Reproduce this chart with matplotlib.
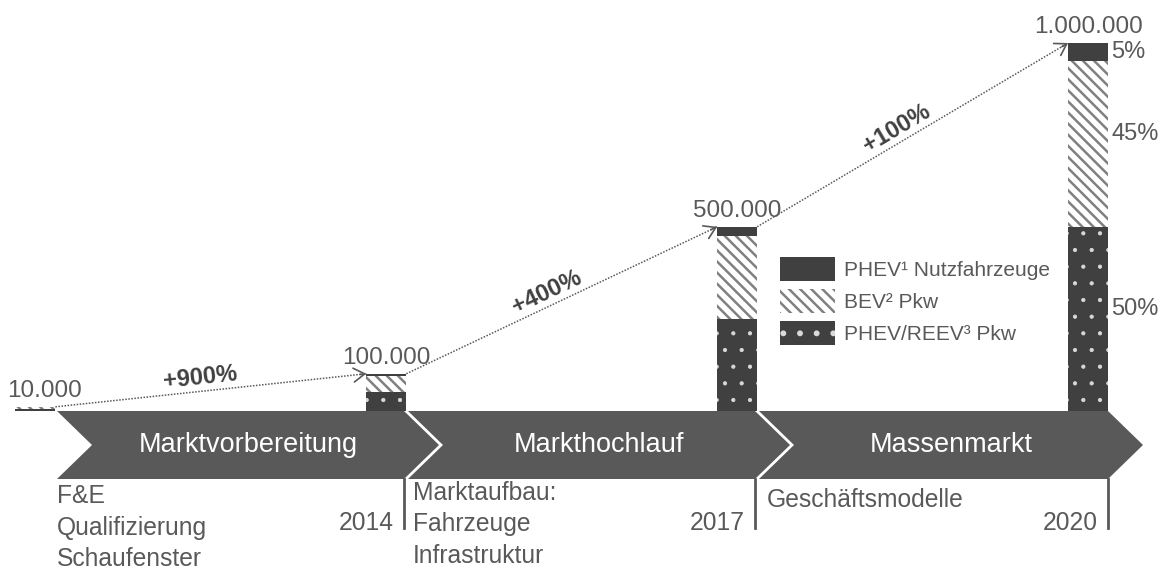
import math
import matplotlib
matplotlib.use('Agg')
import matplotlib.pyplot as plt
from matplotlib.patches import Polygon

plt.rcParams['font.family'] = ['Liberation Sans', 'DejaVu Sans']
plt.rcParams['hatch.linewidth'] = 1.8

# daten
bestand = [10000, 100000, 500000, 1000000]
bestand_labels = ['10.000', '100.000', '500.000', '1.000.000']
anteile = [0.50, 0.45, 0.05]   # von unten nach oben
serien = ['PHEV/REEV³ Pkw', 'BEV² Pkw', 'PHEV¹ Nutzfahrzeuge']
jahre = ['2014', '2017', '2020']
phasen = ['Marktvorbereitung', 'Markthochlauf', 'Massenmarkt']
phasen_text = [['F&E', 'Qualifizierung', 'Schaufenster'],
               ['Marktaufbau:', 'Fahrzeuge', 'Infrastruktur'],
               ['Geschäftsmodelle']]

GRAU = '#595959'
DUNKEL = '#404040'

W, H = 1165, 569
fig = plt.figure(figsize=(W / 100, H / 100), dpi=100)

# hintergrund in pixel-koordinaten (pfeilband, texte unten)
bg = fig.add_axes([0, 0, 1, 1])
bg.set_xlim(0, W)
bg.set_ylim(H, 0)
bg.axis('off')

# balken
ax = fig.add_axes([0, (H - 410.5) / H, 1, (410.5 - 43) / H])
ax.set_xlim(-35.4 / 350.9, (W - 35.4) / 350.9)
ax.set_ylim(0, 1e6)
ax.axis('off')
ax.patch.set_alpha(0)

x = list(range(len(bestand)))
bw = 40 / 350.9
stile = [dict(facecolor=DUNKEL, edgecolor='#d9d9d9', hatch='.'),
         dict(facecolor='white', edgecolor='#808080', hatch='\\\\\\'),
         dict(facecolor=DUNKEL, edgecolor=DUNKEL)]
hatch_lw = [0.6, 1.8, 1.8]

unten = [0] * len(bestand)
for anteil, name, st, hl in zip(anteile, serien, stile, hatch_lw):
    h = [b * anteil for b in bestand]
    with plt.rc_context({'hatch.linewidth': hl}):
        bars = ax.bar(x, h, bw, bottom=unten, label=name, linewidth=0, **st)
    for p in bars:
        if hasattr(p, 'set_hatch_linewidth'):
            p.set_hatch_linewidth(hl)
    unten = [u + v for u, v in zip(unten, h)]

for i, (b, lab) in enumerate(zip(bestand, bestand_labels)):
    dx = 9 if i == 0 else 0   # erstes label nicht am rand abschneiden
    ax.annotate(lab, (i, b), xytext=(dx, 10), textcoords='offset pixels',
                ha='center', va='baseline', fontsize=17.5, color=GRAU)

# wachstumspfeile
for i in range(len(bestand) - 1):
    x0, y0 = i + bw / 2, bestand[i]
    x1, y1 = i + 1 - bw / 2, bestand[i + 1]
    ax.plot([x0, x1], [y0, y1], ls=(0, (1, 1)), lw=1.1, color=GRAU)
    ax.annotate('', xy=(x1, y1), xytext=(x1 - 0.02 * (x1 - x0), y1 - 0.02 * (y1 - y0)),
                arrowprops=dict(arrowstyle='->,head_length=0.4,head_width=0.25',
                                color=GRAU, lw=1.2, shrinkA=0, shrinkB=0,
                                mutation_scale=20))
    p0 = ax.transData.transform((x0, y0))
    p1 = ax.transData.transform((x1, y1))
    winkel = math.degrees(math.atan2(p1[1] - p0[1], p1[0] - p0[0]))
    off = (-math.sin(math.radians(winkel)) * 14, math.cos(math.radians(winkel)) * 14)
    xm, ym = x0 + 0.47 * (x1 - x0), y0 + 0.47 * (y1 - y0)
    zuwachs = round((bestand[i + 1] / bestand[i] - 1) * 100)
    ax.annotate(f'+{zuwachs}%', (xm, ym), xytext=off, textcoords='offset pixels',
                rotation=winkel, rotation_mode='anchor', ha='center', va='center',
                fontsize=17, fontweight='bold', color=DUNKEL)

# anteile am letzten balken
letzte = len(bestand) - 1
boden = 0
for anteil in anteile:
    h = bestand[letzte] * anteil
    h_px = ax.transData.transform((0, h))[1] - ax.transData.transform((0, 0))[1]
    dy = 10 if h_px > 50 else 0
    ax.annotate(f'{round(anteil * 100)}%', (letzte + bw / 2, boden + h / 2), xytext=(3, dy),
                textcoords='offset pixels', ha='left', va='center', fontsize=17, color=GRAU)
    boden += h

handles, labels = ax.get_legend_handles_labels()
leg = fig.legend(handles[::-1], labels[::-1], loc='upper left',
                 bbox_to_anchor=(780 / W, 1 - 257 / H), frameon=False, fontsize=15,
                 handlelength=2.65, handleheight=1.4, handletextpad=0.4,
                 labelspacing=0.38, borderpad=0, borderaxespad=0)
for t in leg.get_texts():
    t.set_color(GRAU)

# pfeilband
grenzen = [57, 404, 755, 1108]
oben, unten_b, tiefe, luecke = 411, 479, 35, 4
mitte = (oben + unten_b) / 2
text_x = [57, 413, 767]
erste_zeile = [503, 500, 507]
for k, name in enumerate(phasen):
    l = grenzen[k] + (luecke if k > 0 else 0)
    r = grenzen[k + 1]
    pts = [(l, oben), (r, oben), (r + tiefe, mitte), (r, unten_b), (l, unten_b), (l + tiefe, mitte)]
    bg.add_patch(Polygon(pts, closed=True, facecolor=GRAU, edgecolor='none'))
    bg.text((l + r + tiefe) / 2, mitte, name, ha='center', va='center',
            fontsize=19.5, color='white')
    bg.plot([r, r], [unten_b, 528], color=GRAU, lw=2)
    for z, zeile in enumerate(phasen_text[k]):
        bg.text(text_x[k], erste_zeile[k] + 31.5 * z, zeile, ha='left', va='baseline',
                fontsize=17.7, color=GRAU)
    bg.text(r - 10, 530, jahre[k], ha='right', va='baseline', fontsize=17.7, color=GRAU)

fig.savefig('out.png', dpi=100)
